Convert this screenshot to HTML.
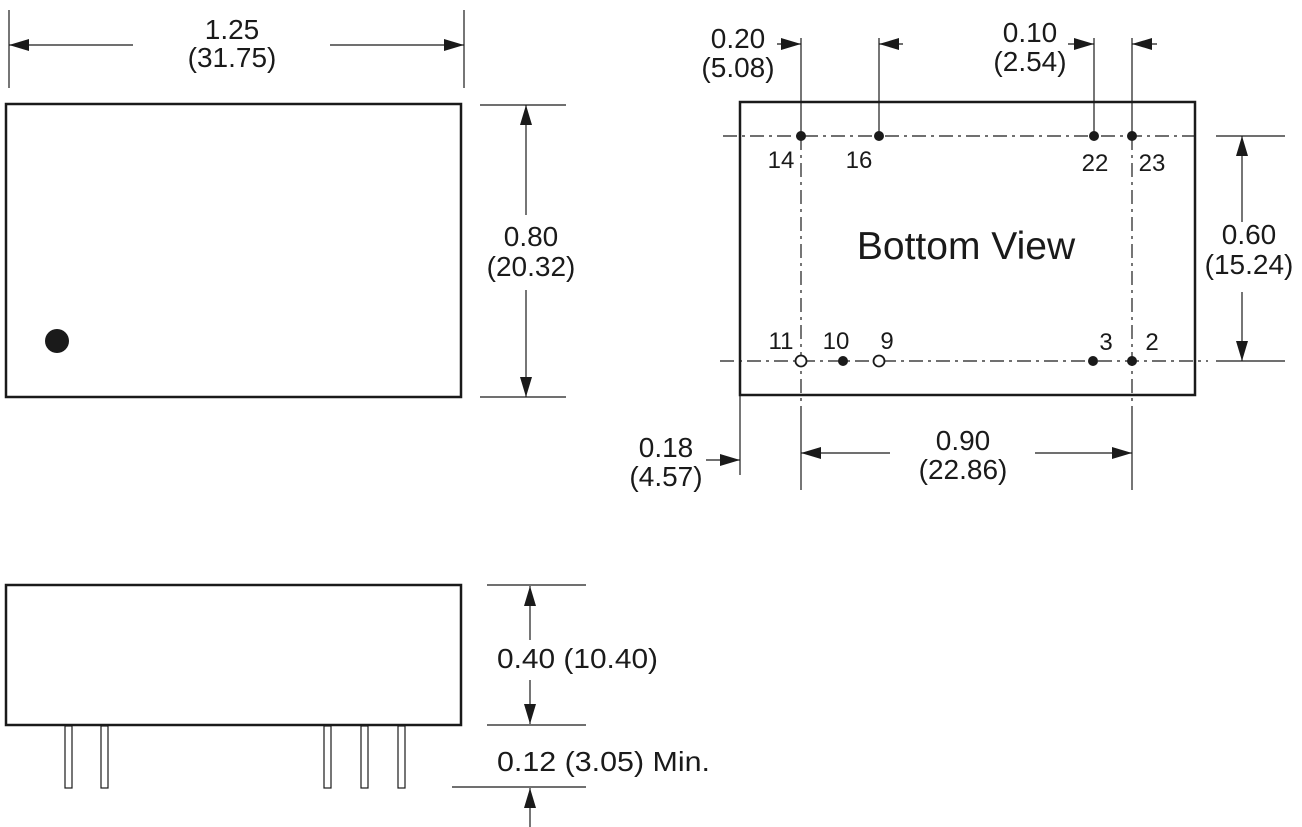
<!DOCTYPE html>
<html><head><style>html,body{margin:0;padding:0;background:#fff}svg{display:block}</style></head>
<body>
<svg width="1302" height="827" viewBox="0 0 1302 827" xmlns="http://www.w3.org/2000/svg" font-family="Liberation Sans, sans-serif" fill="#1a1a1a">
<defs>
<marker id="a" viewBox="0 0 20 12" refX="20" refY="6" markerWidth="20" markerHeight="12" markerUnits="userSpaceOnUse" orient="auto"><path d="M0,0 L20,6 L0,12 Z" fill="#1a1a1a"/></marker>
</defs>
<g stroke="#1a1a1a" fill="none">
<rect x="6" y="104" width="455" height="293" stroke-width="2.5"/>
<line x1="9" y1="10" x2="9" y2="88" stroke-width="1.2"/>
<line x1="464" y1="10" x2="464" y2="88" stroke-width="1.2"/>
<line x1="133" y1="45" x2="9" y2="45" stroke-width="1.2" marker-end="url(#a)"/>
<line x1="330" y1="45" x2="464" y2="45" stroke-width="1.2" marker-end="url(#a)"/>
<line x1="480" y1="105" x2="566" y2="105" stroke-width="1.2"/>
<line x1="480" y1="397" x2="566" y2="397" stroke-width="1.2"/>
<line x1="526" y1="215" x2="526" y2="105" stroke-width="1.2" marker-end="url(#a)"/>
<line x1="526" y1="290" x2="526" y2="397" stroke-width="1.2" marker-end="url(#a)"/>

<rect x="740" y="102" width="455" height="293" stroke-width="2.5"/>
<line x1="723" y1="136" x2="1200" y2="136" stroke-width="1.2" stroke-dasharray="14,5,3,5"/>
<line x1="720" y1="361" x2="1208" y2="361" stroke-width="1.2" stroke-dasharray="14,5,3,5"/>
<line x1="801" y1="136" x2="801" y2="415" stroke-width="1.2" stroke-dasharray="14,5,3,5"/>
<line x1="1132" y1="136" x2="1132" y2="415" stroke-width="1.2" stroke-dasharray="14,5,3,5"/>
<line x1="801" y1="38" x2="801" y2="136" stroke-width="1.2"/>
<line x1="879" y1="38" x2="879" y2="136" stroke-width="1.2"/>
<line x1="1094" y1="38" x2="1094" y2="136" stroke-width="1.2"/>
<line x1="1132" y1="38" x2="1132" y2="136" stroke-width="1.2"/>
<line x1="801" y1="415" x2="801" y2="490" stroke-width="1.2"/>
<line x1="1132" y1="415" x2="1132" y2="490" stroke-width="1.2"/>
<line x1="740" y1="395" x2="740" y2="475" stroke-width="1.2"/>
<line x1="1216" y1="136" x2="1285" y2="136" stroke-width="1.2"/>
<line x1="1216" y1="361" x2="1285" y2="361" stroke-width="1.2"/>
<line x1="1242" y1="222" x2="1242" y2="136" stroke-width="1.2" marker-end="url(#a)"/>
<line x1="1242" y1="292" x2="1242" y2="361" stroke-width="1.2" marker-end="url(#a)"/>
<line x1="777" y1="44" x2="801" y2="44" stroke-width="1.2" marker-end="url(#a)"/>
<line x1="903" y1="44" x2="879" y2="44" stroke-width="1.2" marker-end="url(#a)"/>
<line x1="1068" y1="44" x2="1094" y2="44" stroke-width="1.2" marker-end="url(#a)"/>
<line x1="1157" y1="44" x2="1132" y2="44" stroke-width="1.2" marker-end="url(#a)"/>
<line x1="706" y1="460" x2="740" y2="460" stroke-width="1.2" marker-end="url(#a)"/>
<line x1="890" y1="453" x2="801" y2="453" stroke-width="1.2" marker-end="url(#a)"/>
<line x1="1035" y1="453" x2="1132" y2="453" stroke-width="1.2" marker-end="url(#a)"/>
<circle cx="801" cy="361" r="5.5" fill="#fff" stroke-width="1.8"/>
<circle cx="879" cy="361" r="5.5" fill="#fff" stroke-width="1.8"/>

<rect x="6" y="585" width="455" height="140" stroke-width="2.5"/>
<rect x="65" y="726" width="7" height="62" stroke-width="1.2"/>
<rect x="101" y="726" width="7" height="62" stroke-width="1.2"/>
<rect x="324" y="726" width="7" height="62" stroke-width="1.2"/>
<rect x="361" y="726" width="7" height="62" stroke-width="1.2"/>
<rect x="398" y="726" width="7" height="62" stroke-width="1.2"/>
<line x1="487" y1="585" x2="586" y2="585" stroke-width="1.2"/>
<line x1="487" y1="725" x2="586" y2="725" stroke-width="1.2"/>
<line x1="452" y1="787" x2="586" y2="787" stroke-width="1.2"/>
<line x1="530" y1="640" x2="530" y2="586" stroke-width="1.2" marker-end="url(#a)"/>
<line x1="530" y1="680" x2="530" y2="724" stroke-width="1.2" marker-end="url(#a)"/>
<line x1="530" y1="827" x2="530" y2="788" stroke-width="1.2" marker-end="url(#a)"/>
</g>
<circle cx="57" cy="341" r="12"/>
<circle cx="801" cy="136" r="5"/><circle cx="879" cy="136" r="5"/><circle cx="1094" cy="136" r="5"/><circle cx="1132" cy="136" r="5"/>
<circle cx="843" cy="361" r="5"/><circle cx="1093" cy="361" r="5"/><circle cx="1132" cy="361" r="5"/>

<g font-size="28" text-anchor="middle">
<text x="232" y="39">1.25</text><text x="232" y="67">(31.75)</text>
<text x="531" y="246">0.80</text><text x="531" y="276">(20.32)</text>
<text x="738" y="48">0.20</text><text x="738" y="77">(5.08)</text>
<text x="1030" y="42">0.10</text><text x="1030" y="71">(2.54)</text>
<text x="1249" y="244">0.60</text><text x="1249" y="274">(15.24)</text>
<text x="666" y="457">0.18</text><text x="666" y="486">(4.57)</text>
<text x="963" y="450">0.90</text><text x="963" y="479">(22.86)</text>
</g>
<g font-size="28">
<text x="497" y="668" textLength="161" lengthAdjust="spacingAndGlyphs">0.40 (10.40)</text>
<text x="497" y="771" textLength="213" lengthAdjust="spacingAndGlyphs">0.12 (3.05) Min.</text>
</g>
<text x="966" y="259" font-size="39" text-anchor="middle">Bottom View</text>
<g font-size="24" text-anchor="middle">
<text x="781" y="168">14</text><text x="859" y="168">16</text><text x="1095" y="171">22</text><text x="1152" y="171">23</text>
<text x="781" y="349">11</text><text x="836" y="349">10</text><text x="887" y="349">9</text><text x="1106" y="350">3</text><text x="1152" y="350">2</text>
</g>
</svg>
</body></html>
